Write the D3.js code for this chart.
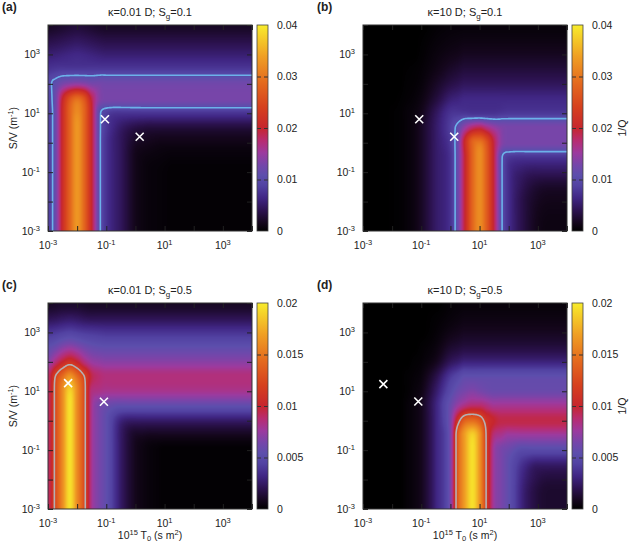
<!DOCTYPE html>
<html>
<head>
<meta charset="utf-8">
<script src="https://cdn.jsdelivr.net/npm/d3@7"></script>
<style>
body{margin:0;background:#fff;}
svg text{font-family:"Liberation Sans",Arial,sans-serif;fill:#222;}
</style>
</head>
<body>
<div id="chart"></div>
<script>
// grid nodes: log10 of T0 (columns, finer around the peaks) and log10 of S/V (rows, top to bottom)
var logT0 = [-3,-2.75,-2.5,-2.25,-2,-1.75,-1.5,-1.25,-1,-0.5,0,0.25,0.5,0.75,1,1.25,1.5,1.75,2,2.5,3,3.5,4];
var logSV = [4,3.5,3,2.5,2,1.5,1,0.5,0,-0.5,-1,-1.5,-2,-2.5,-3];
var UNIT = 1e-3; // grid values are 1/Q in units of 1e-3

// (a) kappa=0.01 D, Sg=0.1
var gridA = [
 [2,2.2,2.5,2.8,3,2.8,2.5,2.2,2,2,2,2,2,2,2,2,2,2,2,2,2,2,2],
 [3.5,3.7,4,4.3,4.5,4.3,4,3.7,3.5,3.5,3.5,3.5,3.5,3.5,3.5,3.5,3.5,3.5,3.5,3.5,3.5,3.5,3.5],
 [5.5,5.7,6,6.3,6.5,6.3,6,5.7,5.5,5.5,5.5,5.5,5.5,5.5,5.5,5.5,5.5,5.5,5.5,5.5,5.5,5.5,5.5],
 [7.5,7.8,8,8,8,8,8,8,8,8,8,8,8,8,8,8,8,8,8,8,8,8,8],
 [9.5,11,13,14,14.5,14,13,12.8,12.5,12.5,12.5,12.5,12.5,12.5,12.5,12.5,12.5,12.5,12.5,12.5,12.5,12.5,12.5],
 [9,12,20,26,29,26,19,14,13,13,13,13,13,13,13,13,13,13,13,13,13,13,13],
 [8.5,12,21,28,32,28,20,11,8.5,7.5,7.5,7.5,7.5,7.5,7.5,7.5,7.5,7.5,7.5,7.5,7.5,7.5,7.5],
 [8.5,12,21,28,33,28,20,11,8,5,3.5,3.2,3,3,3,3,3,3,3,3,3,3,3],
 [8.5,12,21,28,33,28,20,11,7.5,4.5,2,1.7,1.5,1.3,1.2,1.2,1.2,1.2,1.2,1.2,1.2,1.2,1.2],
 [8.5,12,21,28,33,28,20,11,7.5,4.5,1.5,1,0.8,0.7,0.6,0.5,0.5,0.5,0.5,0.5,0.5,0.5,0.5],
 [8.5,12,21,28,33,28,20,11,7.5,4.5,1.5,0.9,0.6,0.5,0.4,0.3,0.3,0.3,0.3,0.3,0.3,0.3,0.3],
 [8.5,12,21,28,33,28,20,11,7.5,4.5,1.5,0.9,0.6,0.5,0.4,0.3,0.3,0.3,0.3,0.3,0.3,0.3,0.3],
 [8.5,12,21,28,33,28,20,11,7.5,4.5,1.5,0.9,0.6,0.5,0.4,0.3,0.3,0.3,0.3,0.3,0.3,0.3,0.3],
 [8.5,12,21,28,33,28,20,11,7.5,4.5,1.5,0.9,0.6,0.5,0.4,0.3,0.3,0.3,0.3,0.3,0.3,0.3,0.3],
 [8.5,12,21,28,33,28,20,11,7.5,4.5,1.5,0.9,0.6,0.5,0.4,0.3,0.3,0.3,0.3,0.3,0.3,0.3,0.3]
];
// (b) kappa=10 D, Sg=0.1
var gridB = [
 [0,0,0,0,0,0,0,0,0,0.3,0.5,0.55,0.6,0.6,0.6,0.6,0.6,0.6,0.6,0.6,0.6,0.6,0.6],
 [0,0,0,0,0,0,0,0,0.1,0.5,0.8,0.9,1,1,1,1,1,1,1,1,1,1,1],
 [0,0,0,0,0,0,0,0,0.2,0.8,1.3,1.5,1.8,1.8,1.8,1.8,1.8,1.8,1.8,1.8,1.8,1.8,1.8],
 [0,0,0,0,0,0,0.1,0.2,0.4,1.2,2.2,2.6,3,3,3,3,3,3,3,3,3,3,3],
 [0,0,0,0,0,0,0.2,0.3,0.6,2,3.5,4,4.5,4.5,4.5,4.5,4.5,4.5,4.5,4.5,4.5,4.5,4.5],
 [0,0,0,0,0,0.1,0.3,0.5,1,3,5.5,6,6.5,6.5,6.5,6.5,6.5,6.5,6.5,6.5,6.5,6.5,6.5],
 [0,0,0,0,0.1,0.2,0.5,0.8,1.5,4.5,7.5,7.8,7.8,7.5,7.5,7.5,7.5,7.8,8,8,8,8,8],
 [0,0,0,0,0.1,0.2,0.5,1,2,5,8.5,11,15,18,19,17,15,13.5,13,13,13,13,13],
 [0,0,0,0,0.1,0.2,0.5,1,2,5,8,12,21,28,30,26,19,14,13,13,13,13,13],
 [0,0,0,0,0.1,0.2,0.5,1,2,5,7.5,12,20,28,32,27,19,10.5,8,7.5,7.5,7.5,7.5],
 [0,0,0,0,0.1,0.2,0.5,1,2,5,7.5,12,20,28,32,27,19,10.5,7,5,4.5,4.5,4.5],
 [0,0,0,0,0.1,0.2,0.5,1,2,5,7.5,12,20,28,32,27,19,10.5,7,4,2.5,2.2,2.2],
 [0,0,0,0,0.1,0.2,0.5,1,2,5,7.5,12,20,28,32,27,19,10.5,7,3.5,1.8,1.4,1.4],
 [0,0,0,0,0.1,0.2,0.5,1,2,5,7.5,12,20,28,32,27,19,10.5,7,3.5,1.5,1.1,1.1],
 [0,0,0,0,0.1,0.2,0.5,1,2,5,7.5,12,20,28,32,27,19,10.5,7,3.5,1.4,1,1]
];
// (c) kappa=0.01 D, Sg=0.5
var gridC = [
 [1,1.1,1.2,1.2,1.2,1.1,1,1,1,1,1,1,1,1,1,1,1,1,1,1,1,1,1],
 [2,2.1,2.3,2.4,2.3,2.1,2,2,2,2,2,2,2,2,2,2,2,2,2,2,2,2,2],
 [3.8,4,4.3,4.5,4.3,4.1,4,3.9,3.8,3.8,3.8,3.8,3.8,3.8,3.8,3.8,3.8,3.8,3.8,3.8,3.8,3.8,3.8],
 [5.5,6,6.8,7.2,6.8,6.2,5.8,5.6,5.5,5.5,5.5,5.5,5.5,5.5,5.5,5.5,5.5,5.5,5.5,5.5,5.5,5.5,5.5],
 [7,8.5,10,11,10,8.5,7.5,7.2,7,7,7,7,7,7,7,7,7,7,7,7,7,7,7],
 [9,12,14.5,16.5,14.5,12,9.5,8.8,8.5,8.5,8.5,8.5,8.5,8.5,8.5,8.5,8.5,8.5,8.5,8.5,8.5,8.5,8.5],
 [9,12.5,16,19,16,12.5,8.5,8.2,8,8,8,8,8,8,8,8,8,8,8,8,8,8,8],
 [9,12.5,16,19.5,16,12.5,8,6.5,6,5.5,5.5,5.5,5.5,5.5,5.5,5.5,5.5,5.5,5.5,5.5,5.5,5.5,5.5],
 [9,12.5,16,19.5,16,12.5,8,6.5,5.5,3,2.5,2.5,2.5,2.5,2.5,2.5,2.5,2.5,2.5,2.5,2.5,2.5,2.5],
 [9,12.5,16,19.5,16,12.5,8,6.5,5.5,2.5,1,0.9,0.8,0.8,0.8,0.8,0.8,0.8,0.8,0.8,0.8,0.8,0.8],
 [9,12.5,16,19.5,16,12.5,8,6.5,5.5,2.5,0.8,0.5,0.3,0.2,0.1,0.1,0.1,0.1,0.1,0.1,0.1,0.1,0.1],
 [9,12.5,16,19.5,16,12.5,8,6.5,5.5,2.5,0.8,0.5,0.3,0.2,0.1,0.1,0.1,0.1,0.1,0.1,0.1,0.1,0.1],
 [9,12.5,16,19.5,16,12.5,8,6.5,5.5,2.5,0.8,0.5,0.3,0.2,0.1,0.1,0.1,0.1,0.1,0.1,0.1,0.1,0.1],
 [9,12.5,16,19.5,16,12.5,8,6.5,5.5,2.5,0.8,0.5,0.3,0.2,0.1,0.1,0.1,0.1,0.1,0.1,0.1,0.1,0.1],
 [9,12.5,16,19.5,16,12.5,8,6.5,5.5,2.5,0.8,0.5,0.3,0.2,0.1,0.1,0.1,0.1,0.1,0.1,0.1,0.1,0.1]
];
// (d) kappa=10 D, Sg=0.5
var gridD = [
 [0,0,0,0,0,0,0,0,0,0,0.2,0.25,0.3,0.3,0.3,0.3,0.3,0.3,0.3,0.3,0.3,0.3,0.3],
 [0,0,0,0,0,0,0,0,0,0.1,0.3,0.4,0.5,0.5,0.5,0.5,0.5,0.5,0.5,0.5,0.5,0.5,0.5],
 [0,0,0,0,0,0,0,0,0,0.2,0.6,0.75,0.9,0.9,0.9,0.9,0.9,0.9,0.9,0.9,0.9,0.9,0.9],
 [0,0,0,0,0,0,0,0,0.1,0.4,1.2,1.4,1.6,1.6,1.6,1.6,1.6,1.6,1.6,1.6,1.6,1.6,1.6],
 [0,0,0,0,0,0,0,0.1,0.2,0.8,2.2,2.6,3,3,3,3,3,3,3,3,3,3,3],
 [0,0,0,0,0,0,0.1,0.2,0.4,1.8,4,4.8,5.5,5.5,5.5,5.5,5.5,5.5,5.5,5.5,5.5,5.5,5.5],
 [0,0,0,0,0,0,0.1,0.3,0.6,2.5,5,6,6.5,6.8,6.5,6.2,6,6,6,6,6,6,6],
 [0,0,0,0,0,0,0.2,0.4,0.8,3,6,7.5,8.5,9,9,8.5,8,8,8,8,8,8,8],
 [0,0,0,0,0,0,0.2,0.4,0.8,3,6.5,11,14,14.5,13.5,11,10,9.5,9.5,9.5,9.5,9.5,9.5],
 [0,0,0,0,0,0,0.2,0.4,0.8,3,6.5,13.5,17,19,16.5,11.5,8.5,8,7.5,7.5,7.5,7.5,7.5],
 [0,0,0,0,0,0,0.2,0.4,0.8,3,6.5,13.5,17,19.5,16.5,11.5,7.5,6.5,6,5,5,5,5],
 [0,0,0,0,0,0,0.2,0.4,0.8,3,6.5,13.5,17,19.5,16.5,11.5,7.5,6.5,5.5,3.5,2.5,2.5,2.5],
 [0,0,0,0,0,0,0.2,0.4,0.8,3,6.5,13.5,17,19.5,16.5,11.5,7.5,6.5,5.5,3,1.8,1.5,1.5],
 [0,0,0,0,0,0,0.2,0.4,0.8,3,6.5,13.5,17,19.5,16.5,11.5,7.5,6.5,5.5,2.8,1.5,1.2,1.2],
 [0,0,0,0,0,0,0.2,0.4,0.8,3,6.5,13.5,17,19.5,16.5,11.5,7.5,6.5,5.5,2.8,1.5,1.2,1.2]
];

// marked (T0, S/V) points
var crossesA = [[0.09,6.3],[1.4,1.6]];
var crossesB = [[0.085,6.3],[1.35,1.6]];
var crossesC = [[0.0049,19],[0.083,4.4]];
var crossesD = [[0.005,17.5],[0.079,4.5]];

var decadeTicks = [1e-3,1e-2,1e-1,1,1e1,1e2,1e3,1e4];
var labelExps = [-3,-1,1,3];
var cbarTicksTop = [0,0.01,0.02,0.03,0.04];
var cbarTicksBottom = [0,0.005,0.01,0.015,0.02];
var kappaLabels = ["0.01","10","0.01","10"];
var sgLabels = ["0.1","0.1","0.5","0.5"];
var panelLetters = ["(a)","(b)","(c)","(d)"];
var contourLevels = [10,10,12,12]; // units of 1e-3

// palette, normalised 0..1
var colorStops = [
 [0,"#000000"],[0.04,"#14061c"],[0.10,"#2c1250"],[0.16,"#402684"],
 [0.22,"#5242a2"],[0.27,"#5c4eac"],[0.32,"#7446aa"],[0.38,"#9c3a9e"],
 [0.44,"#b82c70"],[0.50,"#c6262e"],[0.60,"#d6401e"],[0.72,"#e46a1e"],
 [0.85,"#f0a024"],[1,"#f8ec2c"]
];

var W = 204, H = 206;
var panels = [
 {id:"a", left:48,  top:25,  grid:gridA, max:0.04, ticks:cbarTicksTop, crosses:crossesA, line:"#6cb2ea", ylab:true,  xlab:false, cblab:false},
 {id:"b", left:363, top:25,  grid:gridB, max:0.04, ticks:cbarTicksTop, crosses:crossesB, line:"#6cb2ea", ylab:false, xlab:false, cblab:true},
 {id:"c", left:48,  top:303, grid:gridC, max:0.02, ticks:cbarTicksBottom, crosses:crossesC, line:"#b4b0b4", ylab:true,  xlab:true,  cblab:false},
 {id:"d", left:363, top:303, grid:gridD, max:0.02, ticks:cbarTicksBottom, crosses:crossesD, line:"#b4b0b4", ylab:false, xlab:true,  cblab:true}
];
panels.forEach(function(p,i){
  p.kappa = kappaLabels[i]; p.sg = sgLabels[i]; p.letter = panelLetters[i]; p.level = contourLevels[i];
});

var colorT = d3.scaleLinear()
  .domain(colorStops.map(function(d){return d[0];}))
  .range(colorStops.map(function(d){return d[1];}))
  .interpolate(d3.interpolateRgb).clamp(true);
var lut = d3.range(512).map(function(i){ return d3.rgb(colorT(i/511)); });

// monotone cubic (Fritsch-Carlson style) through the nodes, used only to shade between them
function tangents(xs,ys){
  var n = xs.length, d = [], m = new Array(n), i;
  for(i=0;i<n-1;i++) d[i] = (ys[i+1]-ys[i])/(xs[i+1]-xs[i]);
  m[0] = 0; m[n-1] = 0;
  for(i=1;i<n-1;i++){
    if(d[i-1]*d[i] <= 0){ m[i] = 0; continue; }
    m[i] = (d[i-1]+d[i])/2;
    var lim = 3*Math.min(Math.abs(d[i-1]),Math.abs(d[i]));
    if(Math.abs(m[i]) > lim) m[i] = Math.sign(m[i])*lim;
  }
  return m;
}
function hermite(xs,ys,ms,x){
  var n = xs.length;
  if(x <= xs[0]) return ys[0];
  if(x >= xs[n-1]) return ys[n-1];
  var i = Math.min(n-2, d3.bisectRight(xs,x)-1);
  var h = xs[i+1]-xs[i], t = (x-xs[i])/h, t2 = t*t, t3 = t2*t;
  return (2*t3-3*t2+1)*ys[i] + (t3-2*t2+t)*h*ms[i] + (-2*t3+3*t2)*ys[i+1] + (t3-t2)*h*ms[i+1];
}
var vAsc = logSV.slice().reverse();
function makeSampler(grid){
  var rowM = grid.map(function(r){ return tangents(logT0,r); });
  // returns a function of v for a fixed u
  return function(u){
    var col = grid.map(function(r,k){ return hermite(logT0,r,rowM[k],u); }).reverse();
    var cm = tangents(vAsc,col);
    return function(v){ return Math.max(0,hermite(vAsc,col,cm,v)); };
  };
}

var svg = d3.select("#chart").append("svg").attr("width",630).attr("height",543);
var defs = svg.append("defs");
var grad = defs.append("linearGradient").attr("id","cbgrad")
  .attr("x1",0).attr("y1",1).attr("x2",0).attr("y2",0);
grad.selectAll("stop").data(colorStops).join("stop")
  .attr("offset",function(d){return d[0];}).attr("stop-color",function(d){return d[1];});

function supLabel(sel,e){
  sel.append("tspan").text("10");
  sel.append("tspan").attr("dy",-4.5).attr("font-size","7.5px").text(e);
}

function drawPanel(p){
  var x = d3.scaleLog().domain([1e-3,1e4]).range([p.left,p.left+W]);
  var y = d3.scaleLog().domain([1e-3,1e4]).range([p.top+H,p.top]);
  var g = svg.append("g").attr("class","panel-"+p.id);
  var sampler = makeSampler(p.grid);

  // heat map
  var canvas = document.createElement("canvas");
  canvas.width = W; canvas.height = H;
  var ctx = canvas.getContext("2d");
  var img = ctx.createImageData(W,H);
  for(var i=0;i<W;i++){
    var f = sampler(Math.log10(x.invert(p.left+i+0.5)));
    for(var j=0;j<H;j++){
      var t = f(Math.log10(y.invert(p.top+j+0.5)))*UNIT/p.max;
      var c = lut[Math.max(0,Math.min(511,Math.round(t*511)))];
      var k = (j*W+i)*4;
      img.data[k]=c.r; img.data[k+1]=c.g; img.data[k+2]=c.b; img.data[k+3]=255;
    }
  }
  ctx.putImageData(img,0,0);
  g.append("image").attr("x",p.left).attr("y",p.top).attr("width",W).attr("height",H)
    .attr("preserveAspectRatio","none").attr("href",canvas.toDataURL());

  // contour line
  defs.append("clipPath").attr("id","clip"+p.id).append("rect")
    .attr("x",p.left).attr("y",p.top).attr("width",W).attr("height",H);
  var step = 0.04, u0 = -3.4, v0 = 4.4, n = Math.round(7.8/step)+1;
  var values = new Array(n*n);
  for(var ii=0;ii<n;ii++){
    var fc = sampler(u0+ii*step);
    for(var jj=0;jj<n;jj++) values[jj*n+ii] = fc(v0-jj*step);
  }
  var contours = d3.contours().size([n,n]).thresholds([p.level])(values);
  var proj = d3.geoTransform({point:function(cx,cy){
    this.stream.point(x(Math.pow(10,u0+(cx-0.5)*step)), y(Math.pow(10,v0-(cy-0.5)*step)));
  }});
  g.append("g").attr("clip-path","url(#clip"+p.id+")")
    .selectAll("path").data(contours).join("path")
    .attr("d",d3.geoPath(proj)).attr("fill","none")
    .attr("stroke",p.line).attr("stroke-width",1.6);

  // crosses
  g.selectAll("path.cross").data(p.crosses).join("path").attr("class","cross")
    .attr("transform",function(d){return "translate("+x(d[0])+","+y(d[1])+")";})
    .attr("d","M-4,-4L4,4M-4,4L4,-4")
    .attr("stroke","#fff").attr("stroke-width",1.6).attr("fill","none");

  // inward ticks on all four sides
  var axes = [
    [d3.axisBottom(x),"translate(0,"+(p.top+H)+")"],
    [d3.axisTop(x),"translate(0,"+p.top+")"],
    [d3.axisLeft(y),"translate("+p.left+",0)"],
    [d3.axisRight(y),"translate("+(p.left+W)+",0)"]
  ];
  axes.forEach(function(a){
    var ag = g.append("g").attr("transform",a[1])
      .call(a[0].tickValues(decadeTicks).tickSize(-5).tickFormat(""));
    ag.select(".domain").remove();
    ag.selectAll(".tick line").attr("stroke","#222");
  });
  g.append("rect").attr("x",p.left).attr("y",p.top).attr("width",W).attr("height",H)
    .attr("fill","none").attr("stroke","#333").attr("stroke-width",1);

  // tick labels
  labelExps.forEach(function(e){
    g.append("text").attr("x",x(Math.pow(10,e))).attr("y",p.top+H+18)
      .attr("text-anchor","middle").attr("font-size","10.5px").call(supLabel,e);
    g.append("text").attr("x",p.left-8).attr("y",y(Math.pow(10,e))+4)
      .attr("text-anchor","end").attr("font-size","10.5px").call(supLabel,e);
  });

  // title
  var title = g.append("text").attr("x",p.left+W/2).attr("y",p.top-9)
    .attr("text-anchor","middle").attr("font-size","11px");
  title.append("tspan").text("\u03ba="+p.kappa+" D; S");
  title.append("tspan").attr("dy",3).attr("font-size","8px").text("g");
  title.append("tspan").attr("dy",-3).text("="+p.sg);

  g.append("text").attr("x",p.left-46).attr("y",p.top-14)
    .attr("font-size","12px").attr("font-weight","bold").text(p.letter);

  if(p.ylab){
    var yl = g.append("text").attr("transform","translate(17,"+(p.top+H/2)+") rotate(-90)")
      .attr("text-anchor","middle").attr("font-size","10.5px");
    yl.append("tspan").text("S/V (m");
    yl.append("tspan").attr("dy",-4.5).attr("font-size","7.5px").text("-1");
    yl.append("tspan").attr("dy",4.5).text(")");
  }
  if(p.xlab){
    var xl = g.append("text").attr("x",p.left+W/2).attr("y",p.top+H+30)
      .attr("text-anchor","middle").attr("font-size","10.5px");
    xl.append("tspan").text("10");
    xl.append("tspan").attr("dy",-4).attr("font-size","7.5px").text("15");
    xl.append("tspan").attr("dy",4).text(" T");
    xl.append("tspan").attr("dy",2).attr("font-size","7.5px").text("0");
    xl.append("tspan").attr("dy",-2).text(" (s m");
    xl.append("tspan").attr("dy",-4).attr("font-size","7.5px").text("2");
    xl.append("tspan").attr("dy",4).text(")");
  }

  // colour bar
  var cbX = p.left+W+5, cbW = 11;
  var cs = d3.scaleLinear().domain([0,p.max]).range([p.top+H,p.top]);
  g.append("rect").attr("x",cbX).attr("y",p.top).attr("width",cbW).attr("height",H)
    .attr("fill","url(#cbgrad)");
  var inner = p.ticks.filter(function(d){return d>0 && d<p.max;});
  var cl = g.append("g").attr("transform","translate("+cbX+",0)")
    .call(d3.axisRight(cs).tickValues(inner).tickSize(4).tickFormat(""));
  var cr = g.append("g").attr("transform","translate("+(cbX+cbW)+",0)")
    .call(d3.axisLeft(cs).tickValues(inner).tickSize(4).tickFormat(""));
  [cl,cr].forEach(function(s){ s.select(".domain").remove(); s.selectAll(".tick line").attr("stroke","#333"); });
  g.append("rect").attr("x",cbX).attr("y",p.top).attr("width",cbW).attr("height",H)
    .attr("fill","none").attr("stroke","#444").attr("stroke-width",0.8);
  var lab = g.append("g").attr("transform","translate("+(cbX+cbW)+",0)")
    .call(d3.axisRight(cs).tickValues(p.ticks).tickSize(0).tickPadding(9)
      .tickFormat(function(d){return String(d);}));
  lab.select(".domain").remove();
  lab.attr("font-family",null).attr("font-size",null);
  lab.selectAll("text").attr("font-size","10.5px").attr("fill","#222");

  if(p.cblab){
    g.append("text").attr("transform","translate("+(cbX+cbW+43)+","+(p.top+H/2)+") rotate(-90)")
      .attr("text-anchor","middle").attr("font-size","10.5px").text("1/Q");
  }
}

panels.forEach(drawPanel);
</script>
</body>
</html>
